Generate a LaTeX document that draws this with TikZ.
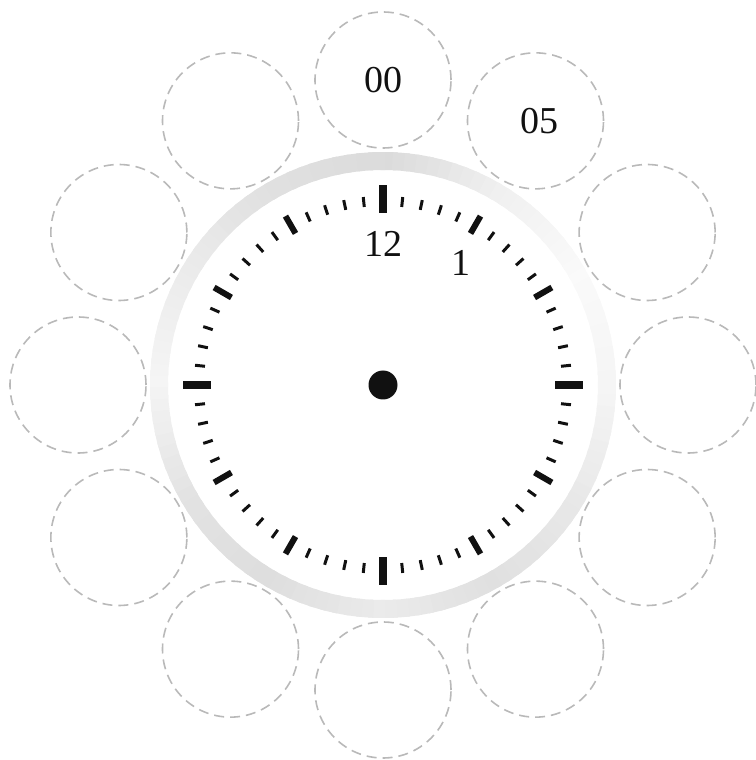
\documentclass[tikz,border=0pt]{standalone}
\usepackage{fontspec}
\setmainfont{Liberation Serif}
\usepackage{tikz}
\usetikzlibrary{calc}
\definecolor{ink}{HTML}{111111}
\tikzset{
  slot/.style={circle, draw=gray!55, dash pattern=on 10pt off 6pt, line width=1.6pt, minimum size=136pt, inner sep=0pt},
  numeral/.style={text=ink, font=\fontsize{38}{42}\selectfont},
  minortick/.style={draw=ink, line width=3pt},
  hourtick/.style={draw=ink, line width=6pt},
  maintick/.style={draw=ink, line width=8pt},
}
\begin{document}
\begin{tikzpicture}[x=1pt,y=1pt]
\useasboundingbox (-383,-375) rectangle (372,385);
% rim, shaded by hour
\def\ringvals{{14,6,2,4,9,12,8,13,11,4,8,12,14}}
\foreach \i in {0,...,119}{
  \pgfmathsetmacro\t{\i/10}
  \pgfmathtruncatemacro\k{floor(\t)}
  \pgfmathsetmacro\v{\ringvals[\k]*(1-(\t-\k)) + \ringvals[\k+1]*(\t-\k)}
  \pgfmathsetmacro\s{90-3*\i+0.6}
  \pgfmathsetmacro\e{90-3*\i-3-0.6}
  \fill[black!\v] (\s:233pt) arc[start angle=\s, end angle=\e, radius=233pt] -- (\e:215pt) arc[start angle=\e, end angle=\s, radius=215pt] -- cycle;
}
% ticks
\foreach \i in {0,...,59}{
  \pgfmathsetmacro\a{90-6*\i}
  \pgfmathtruncatemacro\q{mod(\i,15)==0 ? 2 : (mod(\i,5)==0 ? 1 : 0)}
  \ifcase\q
    \draw[minortick] (\a:179pt) -- (\a:189pt);
  \or
    \draw[hourtick] (\a:175pt) -- (\a:195pt);
  \or
    \draw[maintick] (\a:172pt) -- (\a:200pt);
  \fi
}
\node[circle, fill=ink, minimum size=29pt, inner sep=0pt] (hub) at (0,0) {};
\node[numeral] (n12) at (90:141pt) {12};
\node[numeral] (n1) at (57.4:145pt) {1};
% minute slots
\foreach \j in {0,...,11}
  \node[slot] (slot\j) at ({90-30*\j}:305pt) {};
\node[numeral] (min00) at (slot0) {00};
\node[numeral] (min05) at ($(slot1)+(4,0)$) {05};
\end{tikzpicture}
\end{document}
